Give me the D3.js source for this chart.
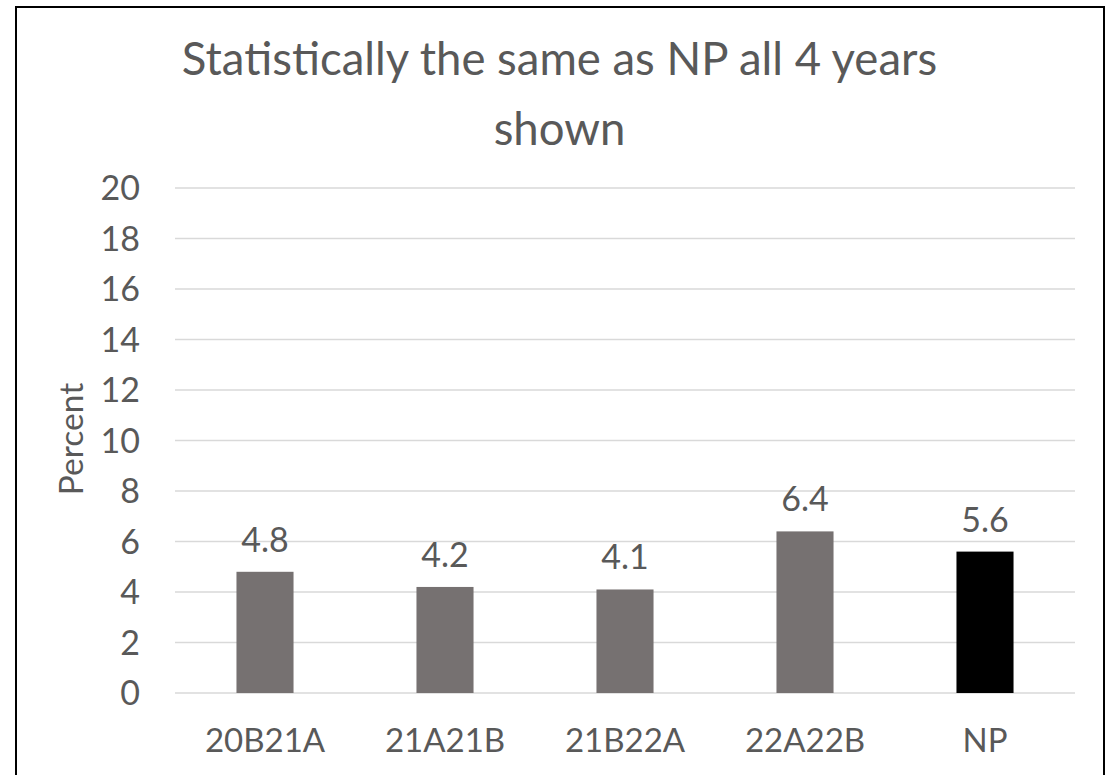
<!DOCTYPE html>
<html>
<head>
<meta charset="utf-8">
<script src="https://cdn.jsdelivr.net/npm/d3@7"></script>
<style>
  body { margin: 0; background: #fff; }
  text { font-family: Lato, "Noto Sans", sans-serif; fill: #595959; }
</style>
</head>
<body>
<svg id="chart" width="1109" height="775"></svg>
<script>
const categories = ['20B21A', '21A21B', '21B22A', '22A22B', 'NP'];
const values = [4.8, 4.2, 4.1, 6.4, 5.6];
const barColors = ['#767171', '#767171', '#767171', '#767171', '#000000'];
const yTicks = [0, 2, 4, 6, 8, 10, 12, 14, 16, 18, 20];
const titleLines = ['Statistically the same as NP all 4 years', 'shown'];

const svg = d3.select('#chart');
const margin = { left: 175, right: 1075, top: 188, bottom: 693 };

// outer frame
svg.append('rect')
  .attr('x', 16).attr('y', 7)
  .attr('width', 1088).attr('height', 800)
  .attr('fill', 'none')
  .attr('stroke', '#000')
  .attr('stroke-width', 2);

const x = d3.scaleBand()
  .domain(categories)
  .range([margin.left, margin.right])
  .paddingInner(0.683)
  .paddingOuter(0.3415);

const y = d3.scaleLinear()
  .domain([0, 20])
  .range([margin.bottom, margin.top]);

// gridlines
svg.append('g')
  .selectAll('line')
  .data(yTicks)
  .enter()
  .append('line')
  .attr('x1', margin.left)
  .attr('x2', margin.right)
  .attr('y1', d => y(d))
  .attr('y2', d => y(d))
  .attr('stroke', '#d9d9d9')
  .attr('stroke-width', 1.3);

// y tick labels
svg.append('g')
  .selectAll('text')
  .data(yTicks)
  .enter()
  .append('text')
  .attr('x', 140)
  .attr('y', d => y(d))
  .attr('dy', '0.36em')
  .attr('text-anchor', 'end')
  .style('font-size', '34px')
  .text(d => d);

// bars
svg.append('g')
  .selectAll('rect')
  .data(values)
  .enter()
  .append('rect')
  .attr('x', (d, i) => x(categories[i]))
  .attr('width', x.bandwidth())
  .attr('y', d => y(d))
  .attr('height', d => y(0) - y(d))
  .attr('fill', (d, i) => barColors[i]);

// value labels
svg.append('g')
  .selectAll('text')
  .data(values)
  .enter()
  .append('text')
  .attr('x', (d, i) => x(categories[i]) + x.bandwidth() / 2)
  .attr('y', d => y(d) - 20)
  .attr('text-anchor', 'middle')
  .style('font-size', '34px')
  .text(d => d3.format('.1f')(d));

// x labels
svg.append('g')
  .selectAll('text')
  .data(categories)
  .enter()
  .append('text')
  .attr('x', d => x(d) + x.bandwidth() / 2)
  .attr('y', 752)
  .attr('text-anchor', 'middle')
  .style('font-size', '33px')
  .text(d => d);

// y axis title
svg.append('text')
  .attr('transform', 'translate(83,439) rotate(-90)')
  .attr('text-anchor', 'middle')
  .style('font-size', '33.5px')
  .text('Percent');

// chart title
svg.append('g')
  .selectAll('text')
  .data(titleLines)
  .enter()
  .append('text')
  .attr('x', 559.5)
  .attr('y', (d, i) => 75 + i * 70)
  .attr('text-anchor', 'middle')
  .style('font-size', '45.5px')
  .text(d => d);
</script>
</body>
</html>
